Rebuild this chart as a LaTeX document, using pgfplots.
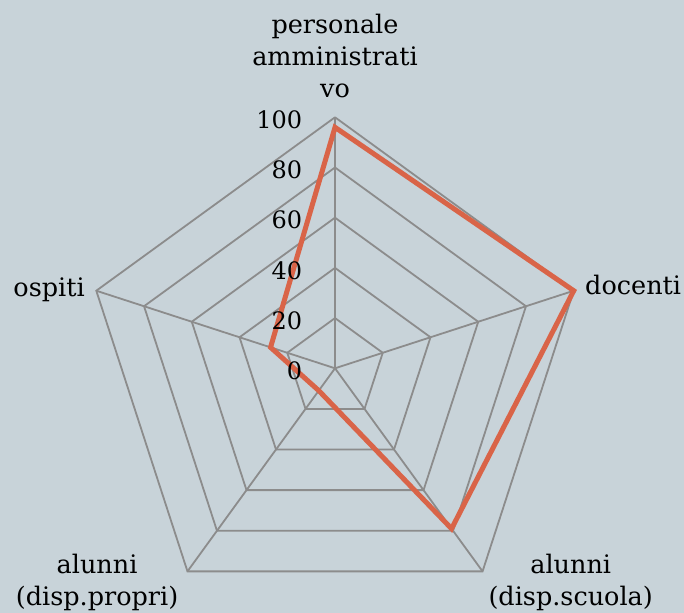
\documentclass[border=0pt]{standalone}
\usepackage{pgfplots}
\pgfplotsset{compat=1.18}
\usepackage{fontspec}
\setmainfont{DejaVu Serif}
\usetikzlibrary{backgrounds}
\definecolor{bgcol}{RGB}{200,211,217}
\definecolor{gridcol}{RGB}{140,140,140}
\definecolor{linecol}{RGB}{217,100,72}
\tikzset{lbl/.style={font=\fontsize{25.5}{30}\selectfont, inner sep=0pt, text=black},
         tck/.style={font=\fontsize{24}{28}\selectfont, inner sep=0pt, text=black}}
\begin{document}
\begin{tikzpicture}
\begin{axis}[
  x=2.51pt, y=2.51pt,
  xmin=-133.47, xmax=139.04, ymin=-97.49, ymax=146.73,
  hide axis, clip=false,
]
\coordinate (BL) at (axis cs:-133.47,-97.49);
\coordinate (TR) at (axis cs:139.04,146.73);
% pentagon rings
\pgfplotsinvokeforeach{20,40,60,80,100}{
  \addplot[data cs=polar, gridcol, line width=1.8pt, line join=miter]
    coordinates {(90,#1) (18,#1) (-54,#1) (-126,#1) (162,#1) (90,#1)};
}
% spokes
\pgfplotsinvokeforeach{90,18,-54,-126,162}{
  \addplot[data cs=polar, gridcol, line width=1.8pt]
    coordinates {(#1,0) (#1,100)};
}
% data
\addplot[data cs=polar, linecol, line width=5pt, line join=miter]
  coordinates {(-126,11) (162,27) (90,96) (18,100) (-54,79) (-126,11)};
% tick labels
\node[tck, anchor=east] at (axis cs:-13,-1) {0};
\node[tck, anchor=east] at (axis cs:-13,19) {20};
\node[tck, anchor=east] at (axis cs:-13,39) {40};
\node[tck, anchor=east] at (axis cs:-13,59) {60};
\node[tck, anchor=east] at (axis cs:-13,79) {80};
\node[tck, anchor=east] at (axis cs:-13,99) {100};
% category labels
\node[lbl, anchor=base] at (axis cs:0,133.3) {personale};
\node[lbl, anchor=base] at (axis cs:0,120.6) {amministrati};
\node[lbl, anchor=base] at (axis cs:0,107.8) {vo};
\node[lbl, anchor=base west] at (axis cs:99.6,29.2) {docenti};
\node[lbl, anchor=base east] at (axis cs:-99.6,28.8) {ospiti};
\node[lbl, anchor=base] at (axis cs:-94.8,-81.6) {alunni};
\node[lbl, anchor=base] at (axis cs:-94.8,-94.7) {(disp.propri)};
\node[lbl, anchor=base] at (axis cs:93.9,-81.6) {alunni};
\node[lbl, anchor=base] at (axis cs:93.9,-94.7) {(disp.scuola)};
\end{axis}
\begin{scope}[on background layer]
\fill[bgcol] (BL) rectangle (TR);
\end{scope}
\pgfresetboundingbox
\path (BL) rectangle (TR);
\end{tikzpicture}
\end{document}
